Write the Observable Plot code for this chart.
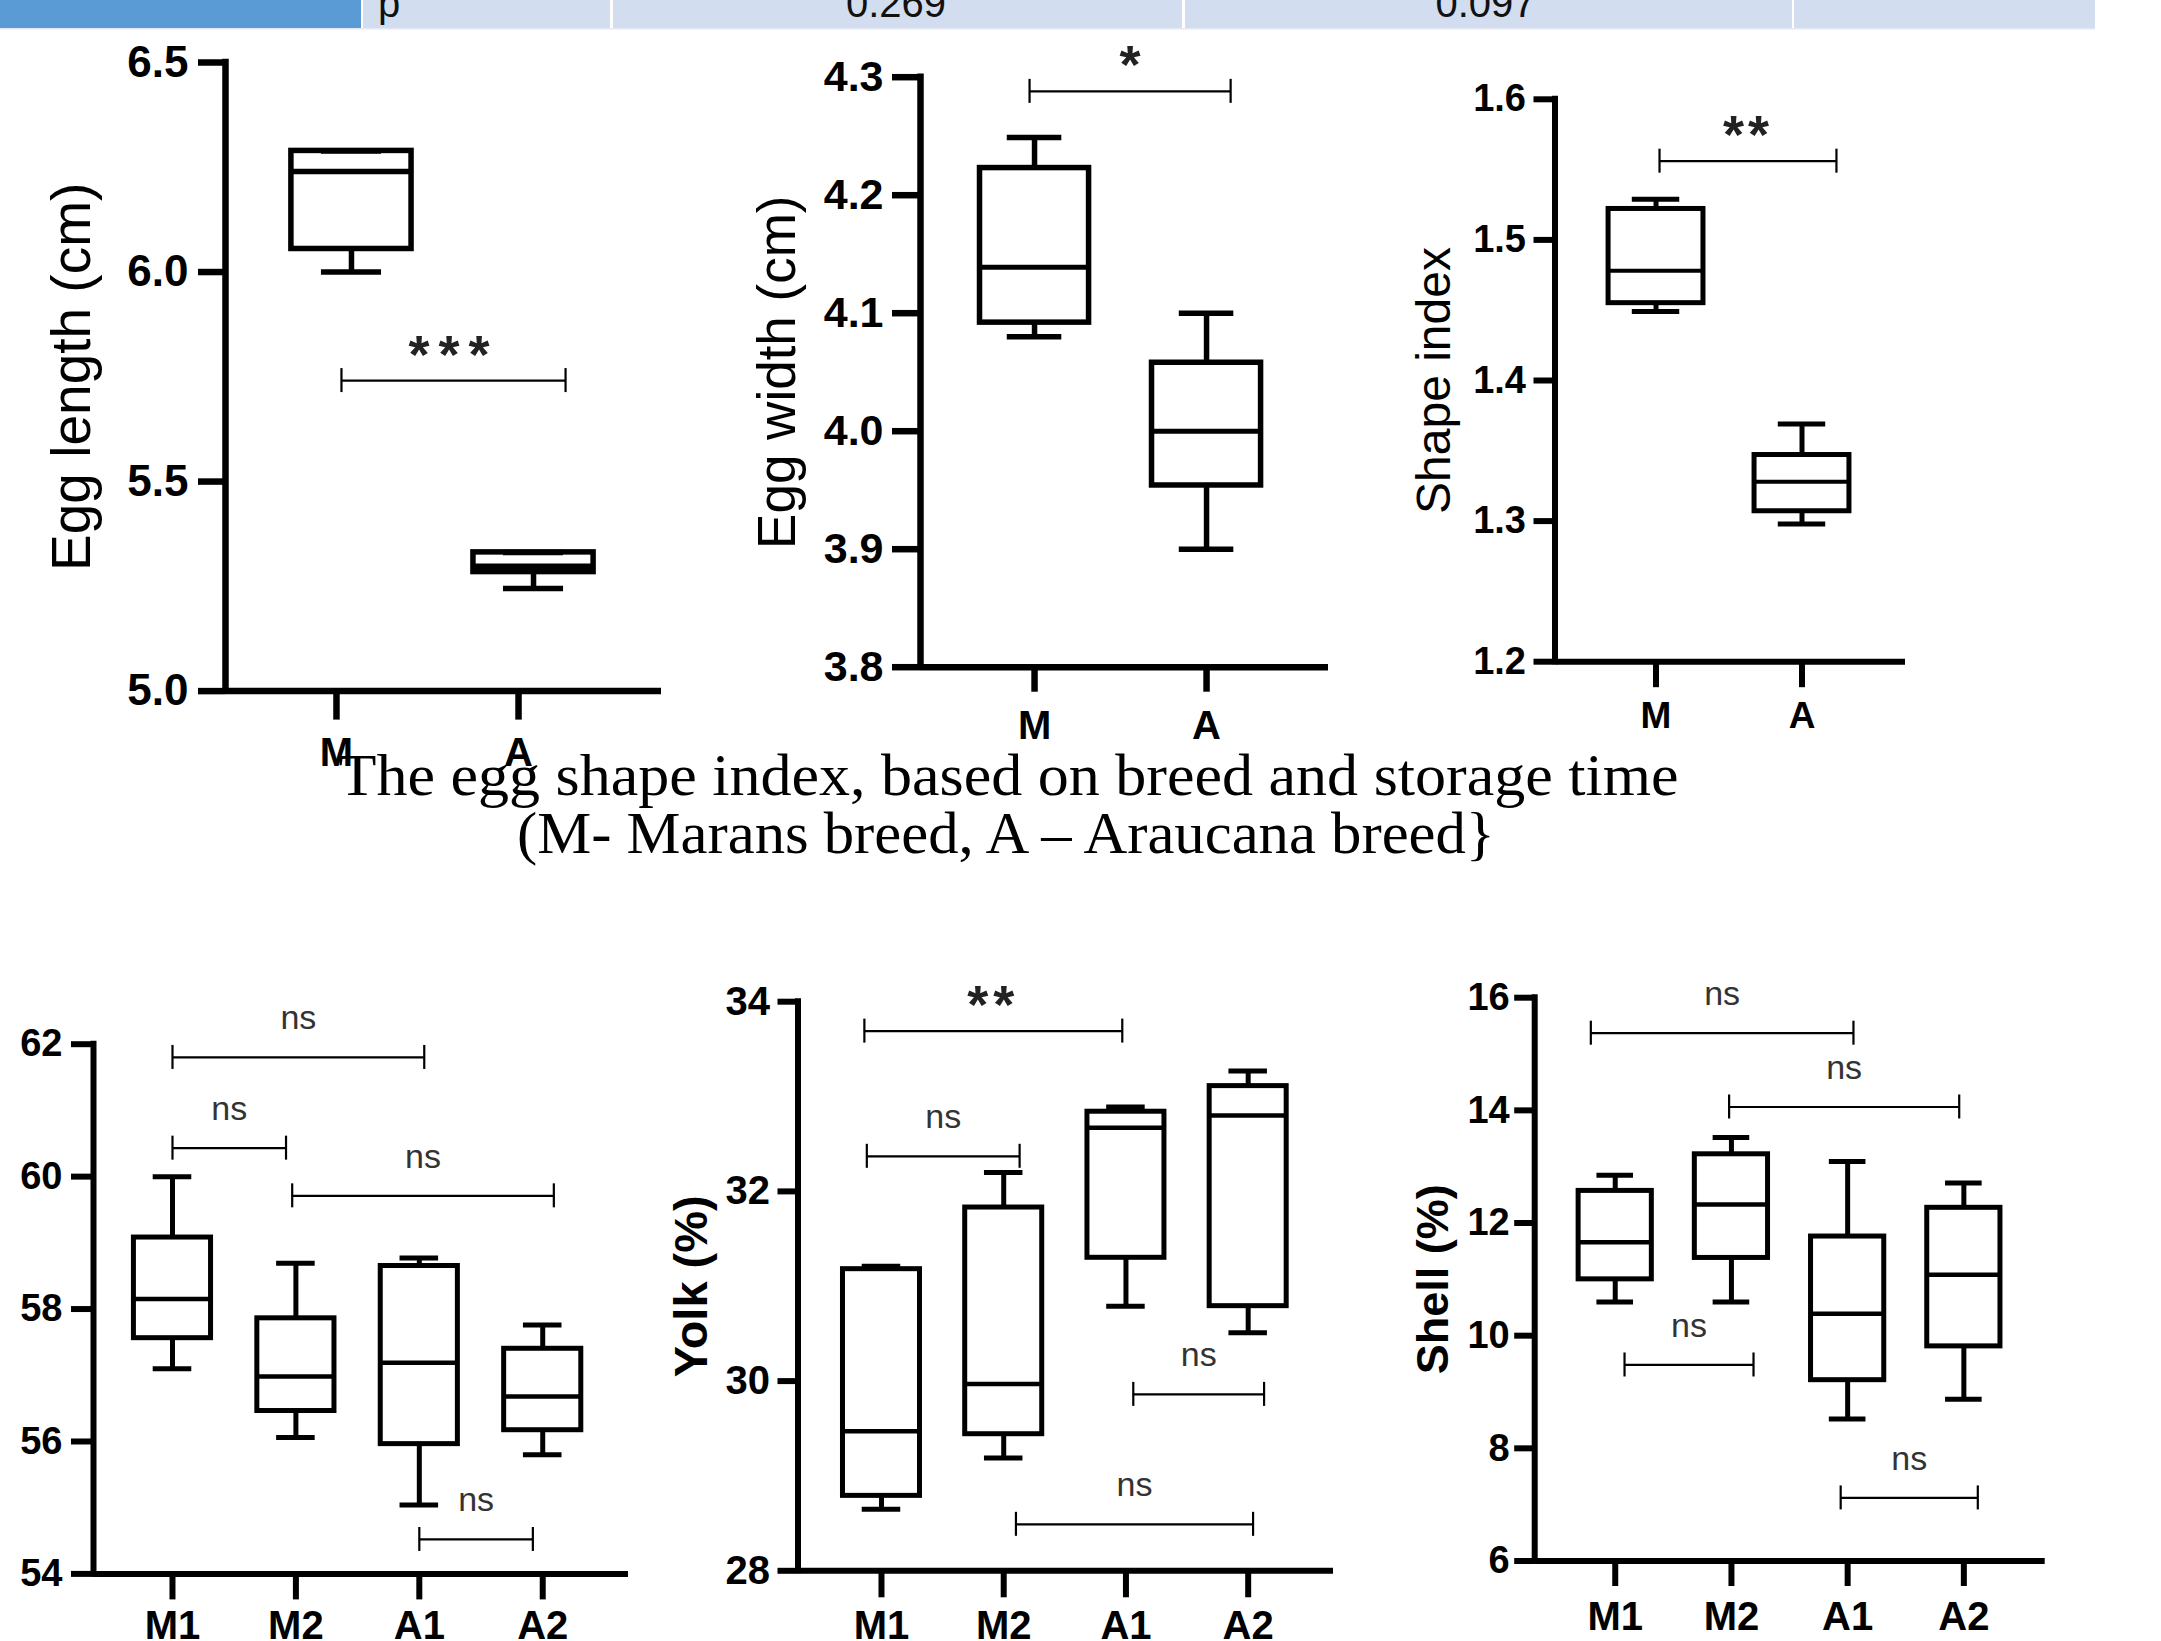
<!DOCTYPE html>
<html>
<head>
<meta charset="utf-8">
<script src="https://cdn.jsdelivr.net/npm/d3@7"></script>
<script src="https://cdn.jsdelivr.net/npm/@observablehq/plot@0.6"></script>
<style>
html, body { margin: 0; padding: 0; background: #fff; }
#page { position: relative; width: 2161px; height: 1641px; overflow: hidden; background: #fff; }
#page svg { position: absolute; overflow: visible; }
</style>
</head>
<body>
<div id="page"></div>
<script>
// ---------------- DATA ----------------
// table fragment at the very top
const tableRow = ["p", "0.269", "0.097", ""];

// captions
const captionLines = ["The egg shape index, based on breed and storage time", "(M- Marans breed, A \u2013 Araucana breed}"];

// groups
const breedGroups = ["M", "A"];
const storageGroups = ["M1", "M2", "A1", "A2"];

// five-number summaries [min, q1, median, q3, max]
const eggLengthBox = [[6.00, 6.055, 6.24, 6.289, 6.289], [5.245, 5.284, 5.298, 5.331, 5.331]];
const eggWidthBox = [[4.08, 4.092, 4.139, 4.223, 4.249], [3.90, 3.954, 4.00, 4.058, 4.10]];
const shapeIndexBox = [[1.449, 1.455, 1.478, 1.522, 1.529], [1.298, 1.307, 1.328, 1.347, 1.369]];
const albumenBox = [[57.10, 57.56, 58.15, 59.08, 60.00], [56.06, 56.46, 56.98, 57.86, 58.69], [55.04, 55.96, 57.19, 58.65, 58.77], [55.80, 56.17, 56.68, 57.40, 57.76]];
const yolkBox = [[28.65, 28.79, 29.47, 31.18, 31.21], [29.19, 29.44, 29.97, 31.83, 32.20], [30.79, 31.30, 32.67, 32.84, 32.89], [30.51, 30.79, 32.80, 33.11, 33.27]];
const shellBox = [[10.60, 11.00, 11.66, 12.57, 12.85], [10.60, 11.38, 12.33, 13.22, 13.52], [8.52, 9.21, 10.39, 11.76, 13.09], [8.87, 9.81, 11.08, 12.27, 12.71]];

// axis ticks
const eggLengthTicks = [5.0, 5.5, 6.0, 6.5];
const eggWidthTicks = [3.8, 3.9, 4.0, 4.1, 4.2, 4.3];
const shapeIndexTicks = [1.2, 1.3, 1.4, 1.5, 1.6];
const albumenTicks = [54, 56, 58, 60, 62];
const yolkTicks = [28, 30, 32, 34];
const shellTicks = [6, 8, 10, 12, 14, 16];

// significance brackets (from/to on the group-position axis, y in data units)
const eggLengthSig = [{from: 0.945, to: 2.176, y: 5.741, label: "***"}];
const eggWidthSig = [{from: 0.971, to: 2.14, y: 4.288, label: "*"}];
const shapeIndexSig = [{from: 1.024, to: 2.236, y: 1.556, label: "**"}];
const albumenSig = [
  {from: 1.0, to: 3.04, y: 61.80, label: "ns"},
  {from: 1.0, to: 1.92, y: 60.43, label: "ns"},
  {from: 1.97, to: 4.09, y: 59.71, label: "ns"},
  {from: 3.0, to: 3.92, y: 54.52, label: "ns"}
];
const yolkSig = [
  {from: 0.86, to: 2.97, y: 33.69, label: "**"},
  {from: 0.88, to: 2.13, y: 32.37, label: "ns"},
  {from: 3.06, to: 4.13, y: 29.86, label: "ns"},
  {from: 2.10, to: 4.04, y: 28.49, label: "ns"}
];
const shellSig = [
  {from: 0.79, to: 3.05, y: 15.37, label: "ns"},
  {from: 1.98, to: 3.96, y: 14.06, label: "ns"},
  {from: 1.08, to: 2.19, y: 9.48, label: "ns"},
  {from: 2.94, to: 4.12, y: 7.12, label: "ns"}
];

// ---------------- RENDER ----------------
const page = document.getElementById("page");
const FONT = "'Liberation Sans', Arial, Helvetica, sans-serif";

// top table strip
(function () {
  const svg = d3.select(page).append("svg").attr("width", 2161).attr("height", 32).style("left", "0px").style("top", "0px");
  svg.append("rect").attr("x", 0).attr("y", 0).attr("width", 361).attr("height", 28).attr("fill", "#5b9bd5");
  const cells = [[363, 610], [613, 1182], [1185, 1792], [1794, 2095]];
  cells.forEach(([a, b], i) => {
    svg.append("rect").attr("x", a).attr("y", 0).attr("width", b - a).attr("height", 28).attr("fill", "#d2deef");
    const t = svg.append("text").text(tableRow[i]).attr("y", 17).attr("font-family", FONT).attr("font-size", 40).attr("fill", "#111");
    if (i === 0) t.attr("x", a + 15).attr("text-anchor", "start");
    else t.attr("x", i === 1 ? 896 : i === 2 ? 1485.5 : (a + b) / 2).attr("text-anchor", "middle");
  });
  svg.append("rect").attr("x", 0).attr("y", 28).attr("width", 2095).attr("height", 1.5).attr("fill", "#e2e9f4");
})();

function panel(cfg) {
  const [sx, sy, sw, sh] = cfg.box;
  const [L, R, T, B] = cfg.frame;
  const yDom = cfg.yDomain, xDom = cfg.xDomain;
  const pxPerY = (B - T) / (yDom[1] - yDom[0]);
  const rows = cfg.groups.map((g, i) => ({
    pos: i + 1, min: cfg.stats[i][0], q1: cfg.stats[i][1], med: cfg.stats[i][2], q3: cfg.stats[i][3], max: cfg.stats[i][4]
  }));
  const hw = cfg.boxWidth / 2, cap = cfg.boxWidth / 4;
  const tickHalf = 12 / pxPerY;
  const sw1 = cfg.boxStroke;
  const ns = cfg.sig.filter(d => !d.label.includes("*"));
  const stars = cfg.sig.filter(d => d.label.includes("*"));
  const marks = [
    // axis lines
    Plot.ruleY([yDom[0]], {stroke: "black", strokeWidth: cfg.axisStroke}),
    Plot.ruleX([xDom[0]], {stroke: "black", strokeWidth: cfg.axisStroke, strokeLinecap: "square"}),
    Plot.axisY({
      ticks: cfg.yTicks, tickFormat: cfg.yFormat, tickSize: cfg.yTickSize, tickPadding: cfg.yTickPad,
      fontSize: cfg.yFont, fontWeight: "bold", strokeWidth: cfg.axisStroke, label: null, fill: "black", stroke: "black"
    }),
    Plot.axisX({
      ticks: cfg.groups.map((g, i) => i + 1), tickFormat: d => cfg.groups[d - 1], tickSize: cfg.xTickSize,
      tickPadding: cfg.xTickPad, fontSize: cfg.xFont, fontWeight: "bold", strokeWidth: cfg.axisStroke,
      label: null, dx: cfg.xDx || 0, fill: "black", stroke: "black"
    }),
    // whiskers
    Plot.ruleX(rows, {x: "pos", y1: "q3", y2: "max", stroke: "black", strokeWidth: sw1}),
    Plot.ruleX(rows, {x: "pos", y1: "min", y2: "q1", stroke: "black", strokeWidth: sw1}),
    Plot.ruleY(rows, {y: "max", x1: d => d.pos - cap, x2: d => d.pos + cap, stroke: "black", strokeWidth: sw1}),
    Plot.ruleY(rows, {y: "min", x1: d => d.pos - cap, x2: d => d.pos + cap, stroke: "black", strokeWidth: sw1}),
    // boxes
    Plot.rect(rows, {x1: d => d.pos - hw, x2: d => d.pos + hw, y1: "q1", y2: "q3", fill: "none", stroke: "black", strokeWidth: sw1}),
    Plot.ruleY(rows, {y: "med", x1: d => d.pos - hw, x2: d => d.pos + hw, stroke: "black", strokeWidth: cfg.medStroke}),
    // brackets
    Plot.ruleY(cfg.sig, {y: "y", x1: "from", x2: "to", stroke: "black", strokeWidth: 2.2}),
    Plot.ruleX(cfg.sig, {x: "from", y1: d => d.y - tickHalf, y2: d => d.y + tickHalf, stroke: "black", strokeWidth: 2.2}),
    Plot.ruleX(cfg.sig, {x: "to", y1: d => d.y - tickHalf, y2: d => d.y + tickHalf, stroke: "black", strokeWidth: 2.2}),
    Plot.text(ns, {x: d => (d.from + d.to) / 2, y: "y", text: "label", lineAnchor: "bottom", dy: -28, fontSize: 34, fill: "#333"}),
    Plot.text(stars, {x: d => (d.from + d.to) / 2, y: "y", text: "label", lineAnchor: "bottom", dy: -8, fontSize: 54, fontWeight: "bold", fill: "#222"})
  ];
  if (cfg.yLabel) {
    marks.push(Plot.text([cfg.yLabel], {
      text: d => d, frameAnchor: "left", dx: cfg.yLabelX - L, rotate: -90, textAnchor: "middle", lineAnchor: "bottom",
      fontSize: cfg.yLabelSize, fontWeight: cfg.yLabelWeight, fill: "black"
    }));
  }
  const svg = Plot.plot({
    width: sw, height: sh,
    marginLeft: L - sx, marginRight: sx + sw - R, marginTop: T - sy, marginBottom: sy + sh - B,
    x: {type: "linear", domain: xDom},
    y: {type: "linear", domain: yDom},
    style: {background: "transparent", fontFamily: FONT, overflow: "visible", maxWidth: "none", color: "black"},
    marks
  });
  svg.style.left = sx + "px";
  svg.style.top = sy + "px";
  svg.querySelectorAll("text").forEach(t => {
    if (t.textContent.includes("*")) t.style.letterSpacing = cfg.starSpacing + "px";
  });
  page.appendChild(svg);
}

const fmt1 = d3.format(".1f");
const fmt0 = d => String(d);

panel({box: [0, 30, 700, 740], frame: [225, 661, 62, 690.6], xDomain: [0.308, 2.703], yDomain: [5.0, 6.5],
  groups: breedGroups, stats: eggLengthBox, yTicks: eggLengthTicks, yFormat: fmt1, sig: eggLengthSig,
  yTickSize: 27, yTickPad: 10, yFont: 44, xTickSize: 29, xTickPad: 17, xFont: 40, xDx: -15,
  boxWidth: 0.66, axisStroke: 6.5, boxStroke: 5.5, medStroke: 5.5, starSpacing: 9,
  yLabel: "Egg length (cm)", yLabelX: 89, yLabelSize: 55, yLabelWeight: "normal"});

panel({box: [700, 30, 700, 740], frame: [920, 1328, 76.7, 666.7], xDomain: [0.337, 2.709], yDomain: [3.8, 4.3],
  groups: breedGroups, stats: eggWidthBox, yTicks: eggWidthTicks, yFormat: fmt1, sig: eggWidthSig,
  yTickSize: 28, yTickPad: 9, yFont: 43, xTickSize: 25, xTickPad: 18, xFont: 40,
  boxWidth: 0.634, axisStroke: 6.5, boxStroke: 5.5, medStroke: 5, starSpacing: 0,
  yLabel: "Egg width (cm)", yLabelX: 794, yLabelSize: 53, yLabelWeight: "normal"});

panel({box: [1400, 30, 700, 740], frame: [1554.5, 1905, 98.8, 661.2], xDomain: [0.308, 2.709], yDomain: [1.2, 1.6],
  groups: breedGroups, stats: shapeIndexBox, yTicks: shapeIndexTicks, yFormat: fmt1, sig: shapeIndexSig,
  yTickSize: 21, yTickPad: 8, yFont: 38, xTickSize: 26, xTickPad: 14, xFont: 37,
  boxWidth: 0.65, axisStroke: 6, boxStroke: 5, medStroke: 4, starSpacing: 4,
  yLabel: "Shape index", yLabelX: 1449, yLabelSize: 48, yLabelWeight: "normal"});

panel({box: [0, 880, 660, 761], frame: [93, 628, 1043.7, 1573.4], xDomain: [0.36, 4.695], yDomain: [54, 62],
  groups: storageGroups, stats: albumenBox, yTicks: albumenTicks, yFormat: fmt0, sig: albumenSig,
  yTickSize: 22, yTickPad: 9, yFont: 38, xTickSize: 26, xTickPad: 11, xFont: 40,
  boxWidth: 0.625, axisStroke: 6, boxStroke: 5, medStroke: 4.5, starSpacing: 5});

panel({box: [660, 880, 720, 761], frame: [797.5, 1333, 1001.2, 1570.3], xDomain: [0.317, 4.698], yDomain: [28, 34],
  groups: storageGroups, stats: yolkBox, yTicks: yolkTicks, yFormat: fmt0, sig: yolkSig,
  yTickSize: 20, yTickPad: 8, yFont: 40, xTickSize: 27, xTickPad: 13, xFont: 40,
  boxWidth: 0.63, axisStroke: 6, boxStroke: 5, medStroke: 4.5, starSpacing: 5,
  yLabel: "Yolk (%)", yLabelX: 706, yLabelSize: 47, yLabelWeight: "bold"});

panel({box: [1380, 880, 781, 761], frame: [1534.2, 2044.7, 997.2, 1560.5], xDomain: [0.307, 4.70], yDomain: [6, 16],
  groups: storageGroups, stats: shellBox, yTicks: shellTicks, yFormat: fmt0, sig: shellSig,
  yTickSize: 20, yTickPad: 5, yFont: 38, xTickSize: 25.5, xTickPad: 15.5, xFont: 40,
  boxWidth: 0.63, axisStroke: 6, boxStroke: 5, medStroke: 4.5, starSpacing: 5,
  yLabel: "Shell (%)", yLabelX: 1447, yLabelSize: 45, yLabelWeight: "bold"});

// caption (drawn on top, overlapping the first panel's tick labels as in the original)
(function () {
  const svg = d3.select(page).append("svg").attr("width", 2161).attr("height", 140)
    .style("left", "0px").style("top", "740px");
  const widths = [1340, 978];
  const centers = [1008.5, 1006];
  const baselines = [55, 113];
  captionLines.forEach((line, i) => {
    svg.append("text").text(line)
      .attr("x", centers[i]).attr("y", baselines[i])
      .attr("text-anchor", "middle")
      .attr("font-family", "'Liberation Serif', 'Times New Roman', serif")
      .attr("font-size", 60)
      .attr("textLength", widths[i]).attr("lengthAdjust", "spacingAndGlyphs")
      .attr("fill", "black");
  });
})();
</script>
</body>
</html>
